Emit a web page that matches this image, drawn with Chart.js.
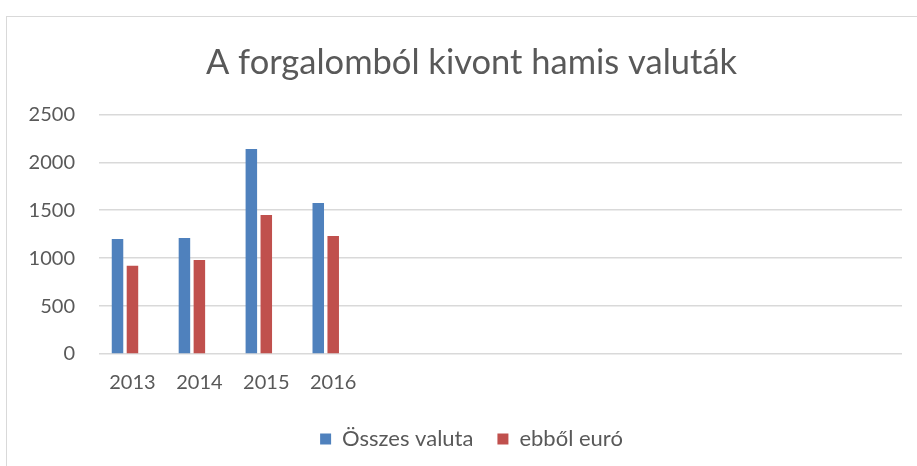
<!DOCTYPE html>
<html>
<head>
<meta charset="utf-8">
<script src="https://cdn.jsdelivr.net/npm/chart.js@4"></script>
<style>
  body { margin: 0; background: #fff; overflow: hidden; }
  #frame { position: absolute; left: 6px; top: 16px; width: 1000px; height: 600px; border: 1px solid #d9d9d9; }
  #wrap { position: absolute; left: 0; top: 0; width: 917px; height: 466px; }
</style>
</head>
<body>
<div id="frame"></div>
<div id="wrap"><canvas id="chart" width="917" height="466"></canvas></div>
<script>
// categories: four years, the rest of the axis is left empty
const years = ['2013', '2014', '2015', '2016', '', '', '', '', '', '', '', ''];
const osszesValuta = [1200, 1210, 2140, 1575];
const ebbolEuro = [920, 980, 1450, 1230];
const yTicks = [0, 500, 1000, 1500, 2000, 2500];

const FONT = 'Lato, "Open Sans", sans-serif';
const TEXT = '#595959';

new Chart(document.getElementById('chart').getContext('2d'), {
    type: 'bar',
    data: {
        labels: years,
        datasets: [
            { label: 'Összes valuta', data: osszesValuta, backgroundColor: '#4f81bd' },
            { label: 'ebből euró', data: ebbolEuro, backgroundColor: '#c0504d' },
            // empty third series, keeps the clusters shifted like the original
            { label: '', data: [], backgroundColor: 'transparent' }
        ]
    },
    options: {
        responsive: false,
        animation: false,
        categoryPercentage: 0.67,
        barPercentage: 0.77,
        layout: { padding: { left: 27, right: 1, top: 0, bottom: 6 } },
        plugins: {
            title: {
                display: true,
                text: 'A forgalomból kivont hamis valuták',
                color: TEXT,
                font: { family: FONT, size: 34.5, weight: 'normal' },
                padding: { top: 42, bottom: 31 }
            },
            legend: {
                position: 'bottom',
                labels: {
                    color: TEXT,
                    font: { family: FONT, size: 22 },
                    boxWidth: 11,
                    boxHeight: 11,
                    padding: 24,
                    filter: item => item.text !== ''
                }
            },
            tooltip: { enabled: false }
        },
        scales: {
            x: {
                grid: { display: false },
                border: { display: false },
                ticks: { color: TEXT, font: { family: FONT, size: 20 }, padding: 9, maxRotation: 0, autoSkip: false }
            },
            y: {
                min: 0,
                max: 2500,
                afterBuildTicks: axis => { axis.ticks = yTicks.map(v => ({ value: v })); },
                afterFit: axis => { axis.width = 72; },
                grid: { color: '#d9d9d9', lineWidth: 1.5, drawTicks: false },
                border: { display: false },
                ticks: { color: TEXT, font: { family: FONT, size: 20 }, padding: 24, callback: v => String(v) }
            },
            // blank right-hand spacer so the plot stops short of the frame
            yRight: {
                position: 'right',
                grid: { display: false },
                border: { display: false },
                ticks: { display: false },
                afterFit: axis => { axis.width = 14; }
            }
        }
    }
});
</script>
</body>
</html>
